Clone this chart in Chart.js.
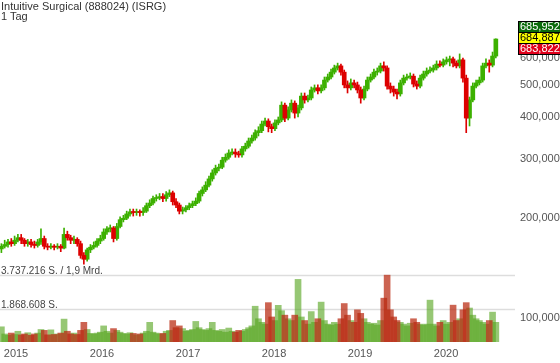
<!DOCTYPE html>
<html><head><meta charset="utf-8">
<script src="https://cdn.jsdelivr.net/npm/chart.js@4.4.1/dist/chart.umd.min.js"></script>
<style>
html,body{margin:0;padding:0;background:#fff;overflow:hidden}
#wrap{position:relative;width:560px;height:363px}
canvas{position:absolute;left:0;top:0}
#title{position:absolute;left:1px;top:1px;font:11px "Liberation Sans",Arial,sans-serif;color:#333;line-height:10px;white-space:nowrap}
</style></head><body>
<div id="wrap"><canvas id="c" width="560" height="363"></canvas><div id="title">Intuitive Surgical (888024) (ISRG)<br>1 Tag</div></div>
<script>
// ---- data (biweekly candles) ----
const firstDate = '2014-10-31';
const stepDays = 14;
const open = [
161,164,166,169,167,171,174,171,167,169,
166,165,169,173,164,163,164,163,164,162,
178,174,171,172,167,154,150,160,163,165,
170,173,181,185,186,173,188,197,199,205,
208,207,208,207,209,217,221,228,229,231,
228,234,237,223,218,209,211,214,217,220,
224,236,242,250,261,272,281,283,297,303,
312,314,310,308,321,327,339,346,359,364,
381,389,374,369,384,392,434,397,420,440,
411,426,462,450,456,482,489,479,489,516,
527,545,561,569,545,499,489,506,499,482,
456,485,516,527,545,549,569,561,495,485,
475,469,506,523,527,530,502,495,523,538,
549,553,561,576,572,585,593,597,580,569,
593,523,397,450,495,506,516,569,580,572,
609];
const high = [
167,171,172,173,176,178,178,173,172,172,
170,172,185,176,167,167,166,167,166,186,
182,177,176,174,170,157,162,166,169,173,
177,185,188,190,188,192,201,203,209,212,
212,212,211,214,221,226,232,234,236,236,
239,242,240,228,221,215,217,221,224,229,
240,247,256,266,278,287,289,303,310,319,
321,321,316,327,334,346,353,366,374,389,
397,395,381,392,400,444,440,429,450,447,
434,472,472,465,492,499,499,499,527,538,
557,572,580,576,553,513,520,516,509,492,
495,527,538,557,561,580,585,569,506,495,
485,516,534,538,542,538,513,534,549,561,
565,572,589,589,597,605,609,605,589,618,
601,534,459,506,516,527,580,597,593,626,
685.952];
const low = [
157,162,163,164,165,169,167,164,164,163,
162,163,166,161,160,161,160,161,158,161,
171,167,167,164,151,145,148,157,161,163,
167,171,178,181,169,171,186,194,197,202,
202,203,202,203,207,214,218,224,226,223,
224,231,218,214,205,205,208,211,214,217,
221,232,239,247,257,268,276,280,293,299,
308,303,303,303,316,323,334,341,351,359,
376,361,359,364,379,387,387,392,414,397,
400,420,440,444,450,475,469,472,482,509,
520,538,553,534,489,472,482,489,472,440,
450,479,509,520,534,542,549,485,472,462,
453,462,499,516,520,492,485,489,516,530,
542,545,553,565,565,576,569,565,561,561,
509,359,376,444,489,499,509,561,545,565,
601];
const close = [
164,166,169,167,171,174,171,167,169,166,
165,169,173,164,163,164,163,164,162,178,
174,171,172,167,154,150,160,163,165,170,
173,181,185,186,173,188,197,199,205,208,
207,208,207,209,217,221,228,229,231,228,
234,237,223,218,209,211,214,217,220,224,
236,242,250,261,272,281,283,297,303,312,
314,310,308,321,327,339,346,359,364,381,
389,374,369,384,392,434,397,420,440,411,
426,462,450,456,482,489,479,489,516,527,
545,561,569,545,499,489,506,499,482,456,
485,516,527,545,549,569,561,495,485,475,
469,506,523,527,530,502,495,523,538,549,
553,561,576,572,585,593,597,580,569,593,
523,397,450,495,506,516,569,580,572,609,
684.887];
// volume in thousands of shares
const volume = [
850,450,380,500,420,600,400,450,520,380,
450,500,700,650,400,680,420,450,500,1280,
600,450,500,420,650,1100,700,480,450,500,
550,900,600,500,750,650,550,480,450,520,
480,400,450,500,600,1100,550,500,450,480,
600,650,1200,800,900,750,600,650,700,1150,
800,700,650,750,1100,650,600,700,550,780,
600,550,650,600,700,800,900,2000,1300,1100,
1000,2200,1400,1200,2050,1750,1500,1300,1200,1500,
3500,1400,1200,1000,1700,1100,1300,2230,1200,1000,
950,1100,1000,1300,2150,1500,1200,1100,1800,1600,
1300,1100,1000,1050,950,1200,2450,3737.216,1800,1400,
1200,1100,1000,900,1050,1300,1100,1000,950,1000,
2340,1000,900,1100,1200,1000,1100,2060,1200,1300,
1800,2200,1900,1500,1300,1200,1100,1000,1200,1670,
1100];
const yearTicks = [2015,2016,2017,2018,2019,2020];
const priceTicks = [100,200,300,400,500,600];
const volLines = [3737.216, 1868.608];
const volLabels = ['3.737.216 S. / 1,9 Mrd.', '1.868.608 S.'];
const quotes = [685.952, 684.887, 683.822];

// ---- build ----
const dates = open.map((_, i) => new Date(Date.UTC(2014, 9, 31 + stepDays * i)).toISOString().slice(0, 10));
function decYear(s){const d=new Date(s+'T00:00:00Z');const y=d.getUTCFullYear();const a=Date.UTC(y,0,1),b=Date.UTC(y+1,0,1);return y+(d-a)/(b-a);}
const xs = dates.map(decYear);
const up = close.map((c, i) => c >= open[i]);
const GREEN = '#3cb000', RED = '#dd0000';
const VG = 'rgba(85,165,30,0.62)', VR = 'rgba(185,40,15,0.72)';
const fmt = v => v.toFixed(3).replace('.', ',');
const FONT = '"Liberation Sans", Arial, sans-serif';
Chart.defaults.font.family = FONT;

const pick = (cond, fn) => xs.map((x, i) => cond(i) ? { x, y: fn(i) } : { x, y: null });

const overlay = {
  id: 'overlay',
  beforeDatasetsDraw(chart) {
    const c = chart.ctx, yv = chart.scales.yv, ca = chart.chartArea;
    c.save();
    volLines.forEach((v, k) => {
      const py = Math.round(yv.getPixelForValue(v)) + 0.5;
      c.strokeStyle = '#dddddd'; c.lineWidth = 1.5;
      c.beginPath(); c.moveTo(ca.left, py); c.lineTo(ca.right, py); c.stroke();
      c.fillStyle = '#444'; c.font = '10px ' + FONT; c.textBaseline = 'alphabetic'; c.textAlign = 'left';
      c.fillText(volLabels[k], 1, py - 1.5);
    });
    c.restore();
  },
  afterDraw(chart) {
    const c = chart.ctx, ys = chart.scales.y;
    const yc = ys.getPixelForValue(quotes[1]) - 1.5;
    const bh = 11, bx = 518, bw = 44;
    const styles = [['#0b6b0b', '#fff'], ['#ffff00', '#000'], ['#e0001b', '#fff']];
    c.save();
    c.font = '11px ' + FONT; c.textBaseline = 'middle'; c.textAlign = 'left';
    quotes.forEach((q, k) => {
      const top = Math.round(yc - bh * 1.5 + k * bh);
      c.fillStyle = styles[k][0]; c.fillRect(bx, top, bw, bh);
      c.strokeStyle = '#000'; c.lineWidth = 1; c.strokeRect(bx + 0.5, top + 0.5, bw, bh);
      c.fillStyle = styles[k][1]; c.fillText(fmt(q), bx + 2, top + bh / 2 + 0.5);
    });
    c.restore();
  }
};

const common = { grouped: false, skipNull: true };
new Chart(document.getElementById('c'), {
  type: 'bar',
  data: {
    datasets: [
      { ...common, label: 'Volumen steigend', yAxisID: 'yv', order: 6, barThickness: 6,
        data: pick(i => up[i], i => volume[i]), backgroundColor: VG },
      { ...common, label: 'Volumen fallend', yAxisID: 'yv', order: 5, barThickness: 6,
        data: pick(i => !up[i], i => volume[i]), backgroundColor: VR },
      { ...common, label: 'Docht steigend', yAxisID: 'y', order: 4, barThickness: 1,
        data: pick(i => up[i], i => [low[i], high[i]]), backgroundColor: GREEN },
      { ...common, label: 'Körper steigend', yAxisID: 'y', order: 3, barThickness: 4, minBarLength: 1,
        data: pick(i => up[i], i => [open[i], close[i]]), backgroundColor: GREEN },
      { ...common, label: 'Docht fallend', yAxisID: 'y', order: 2, barThickness: 1,
        data: pick(i => !up[i], i => [low[i], high[i]]), backgroundColor: RED },
      { ...common, label: 'Körper fallend', yAxisID: 'y', order: 1, barThickness: 4, minBarLength: 1,
        data: pick(i => !up[i], i => [open[i], close[i]]), backgroundColor: RED }
    ]
  },
  options: {
    responsive: false, animation: false, devicePixelRatio: 1,
    layout: { padding: 0 },
    plugins: { legend: { display: false }, tooltip: { enabled: false } },
    scales: {
      x: { type: 'linear', min: 2014.814, max: 2020.802, bounds: 'data', offset: false,
        grid: { display: false, drawTicks: false }, border: { display: false },
        afterBuildTicks: s => { s.ticks = yearTicks.map(v => ({ value: v })); },
        afterFit: s => { s.height = 21; s.paddingLeft = 0; s.paddingRight = 0; },
        ticks: { autoSkip: false, maxRotation: 0, padding: 5, color: '#555', font: { size: 11 }, callback: v => String(v) } },
      y: { type: 'logarithmic', position: 'right', min: 84.76, max: 896.3, bounds: 'data',
        grid: { display: false, drawTicks: false }, border: { display: false },
        afterBuildTicks: s => { s.ticks = priceTicks.map(v => ({ value: v })); },
        afterFit: s => { s.width = 45; s.paddingTop = 0; s.paddingBottom = 0; },
        ticks: { padding: 5, color: '#555', font: { size: 11 }, callback: v => fmt(v) } },
      yv: { type: 'linear', display: false, min: 0, max: volLines[0] / 0.1955, bounds: 'data' }
    }
  },
  plugins: [overlay]
});
</script></body></html>
